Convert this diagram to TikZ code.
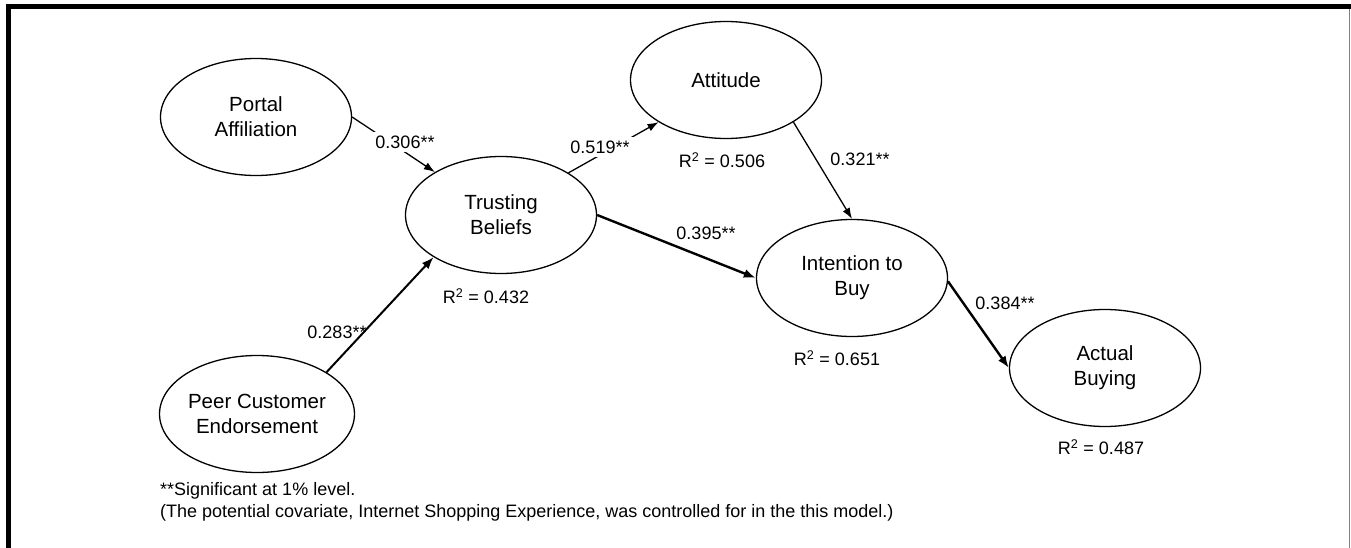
\documentclass[tikz,border=0pt]{standalone}
\usepackage{fontspec}
\setmainfont{Liberation Sans}
\usetikzlibrary{shapes.geometric,arrows.meta}
\begin{document}
\begin{tikzpicture}[x=1pt,y=-1pt,
  construct/.style={ellipse, draw, line width=1.3pt, minimum width=191pt, minimum height=117pt, inner sep=0pt, align=center, font=\fontsize{20.5}{25}\selectfont},
  link/.style={line width=1.3pt, -{Latex[length=11pt,width=8pt]}},
  boldlink/.style={line width=2.4pt, -{Latex[length=12pt,width=9pt]}},
  coef/.style={font=\fontsize{18}{21}\selectfont, inner sep=0pt},
  onlink/.style={coef, fill=white, inner sep=4pt},
  note/.style={font=\fontsize{18}{21}\selectfont, inner sep=0pt, anchor=west}
]
\useasboundingbox (0,0) rectangle (1351,548);
% frame
\draw[line width=5pt] (6,6.5) -- (1351,6.5);
\draw[line width=5pt] (8.5,4) -- (8.5,548);
\draw[line width=1.2pt, gray] (1349.5,9) -- (1349.5,548);

% constructs
\node[construct] (portal) at (256,117) {Portal\\Affiliation};
\node[construct] (trust) at (501,215) {Trusting\\Beliefs};
\node[construct] (att) at (726,80) {Attitude};
\node[construct] (intent) at (852,278) {Intention to\\Buy};
\node[construct] (actual) at (1105,368) {Actual\\Buying};
\node[construct] (peer) at (257,414) {Peer Customer\\Endorsement};

% connectors
\draw[link] (portal.0) -- (trust.147);
\draw[link] (trust.32) -- (att.212);
\draw[boldlink] (trust.0) -- (intent.180);
\draw[link] (att.-32) -- (intent.90);
\draw[boldlink] (intent.-2) -- (actual.180);
\draw[line width=2pt, -{Latex[length=12pt,width=9pt]}] (peer.31) -- (trust.212);

% coefficients
\node[onlink] (c1) at (405,142) {0.306**};
\node[onlink] (c2) at (600,147) {0.519**};
\node[coef] (c3) at (706,233) {0.395**};
\node[coef] (c4) at (860,159) {0.321**};
\node[coef] (c5) at (1005,303) {0.384**};
\node[coef] (c6) at (337,332) {0.283**};

% R squared
\node[coef] (r1) at (486,296) {R\textsuperscript{2} = 0.432};
\node[coef] (r2) at (722,160) {R\textsuperscript{2} = 0.506};
\node[coef] (r3) at (837,358) {R\textsuperscript{2} = 0.651};
\node[coef] (r4) at (1101,447) {R\textsuperscript{2} = 0.487};

% notes
\node[note] (n1) at (160,491) {**Significant at 1\% level.};
\node[note] (n2) at (160,513) {(The potential covariate, Internet Shopping Experience, was controlled for in the this model.)};
\end{tikzpicture}
\end{document}
